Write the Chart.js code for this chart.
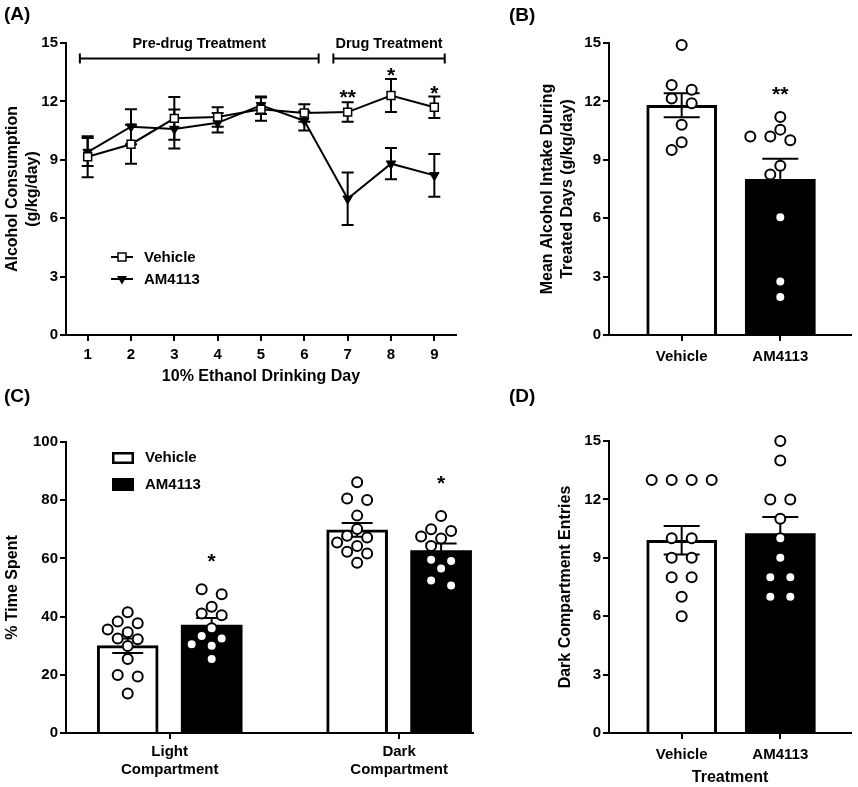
<!DOCTYPE html>
<html>
<head>
<meta charset="utf-8">
<script src="https://cdn.jsdelivr.net/npm/chart.js@4.4.0/dist/chart.umd.min.js"></script>
<style>
  body { margin: 0; background: #fff; }
  #fig { position: relative; width: 858px; height: 787px; overflow: hidden; font-family: 'Liberation Sans', Arial, sans-serif; }
  canvas { position: absolute; }
  .lab { position: absolute; font-weight: bold; font-size: 19px; line-height: 19px; color: #000; }
</style>
</head>
<body>
<div id="fig">
  <canvas id="chartA" width="470" height="395" style="left:0;top:0"></canvas>
  <canvas id="chartB" width="388" height="395" style="left:470px;top:0"></canvas>
  <canvas id="chartC" width="480" height="392" style="left:0;top:395px"></canvas>
  <canvas id="chartD" width="378" height="392" style="left:480px;top:395px"></canvas>
  <div class="lab" style="left:4px;top:4px">(A)</div>
  <div class="lab" style="left:509px;top:5px">(B)</div>
  <div class="lab" style="left:4px;top:386px">(C)</div>
  <div class="lab" style="left:509px;top:386px">(D)</div>
</div>
<script>
// ---- values ----
// (A) daily intake, mean and SEM
var days = [1, 2, 3, 4, 5, 6, 7, 8, 9];
var vehicleDaily = [9.16, 9.8, 11.13, 11.2, 11.6, 11.4, 11.45, 12.3, 11.7];
var vehicleDailySem = [1.05, 1.0, 1.1, 0.5, 0.6, 0.45, 0.5, 0.85, 0.55];
var amDaily = [9.4, 10.7, 10.58, 10.9, 11.8, 11.0, 7.0, 8.8, 8.2];
var amDailySem = [0.72, 0.9, 1.0, 0.5, 0.45, 0.5, 1.35, 0.8, 1.1];
var dailyStars = [[7, 12.45, '**'], [8, 13.6, '*'], [9, 12.7, '*']];
var periods = [['Pre-drug Treatment', 0.82, 6.33], ['Drug Treatment', 6.67, 9.24]];

// (B) mean intake over treated days
var groups = ['Vehicle', 'AM4113'];
var intakeVehicle = [14.9, 12.84, 12.6, 12.15, 11.9, 10.8, 9.9, 9.5];
var intakeAm = [11.2, 10.55, 10.2, 10.0, 10.2, 8.7, 8.25, 6.05, 2.75, 1.95];
var intakeMean = [11.8, 8.0];
var intakeSem = [0.62, 1.05];
var intakeStars = [[1, 12.6, '**']];

// (C) % time spent
var compartments = [['Light', 'Compartment'], ['Dark', 'Compartment']];
var lightVehicle = [41.5, 38.3, 37.7, 35.6, 34.6, 32.5, 32.2, 29.9, 25.4, 19.9, 19.4, 13.6];
var lightAm = [49.4, 47.7, 43.4, 41.1, 40.5, 36.0, 33.3, 32.5, 30.5, 30.0, 25.4];
var darkVehicle = [86.2, 80.6, 80.1, 74.7, 70.1, 67.8, 67.2, 65.5, 64.3, 62.3, 61.7, 58.5];
var darkAm = [74.6, 70.0, 69.4, 67.5, 66.8, 64.3, 59.5, 59.1, 56.5, 52.4, 50.7];
var timeMeanVehicle = [30.0, 69.8];
var timeSemVehicle = [2.5, 2.4];
var timeMeanAm = [37.1, 62.7];
var timeSemAm = [2.4, 2.4];
var timeStars = [[0, 60.6, '*'], [1, 87.6, '*']];

// (D) dark compartment entries
var entriesVehicle = [13, 13, 13, 13, 10, 10, 9, 9, 8, 8, 7, 6];
var entriesAm = [15, 14, 12, 12, 11, 10, 9, 8, 8, 7, 7];
var entriesMean = [9.9, 10.25];
var entriesSem = [0.73, 0.85];

// ---- shared look ----
var FONT = "'Liberation Sans', Arial, sans-serif";
Chart.defaults.font.family = FONT;
Chart.defaults.font.weight = 'bold';
Chart.defaults.color = '#000';
Chart.defaults.animation = false;
Chart.defaults.plugins.legend.display = false;
Chart.defaults.plugins.tooltip.enabled = false;

var DODGE = 0.183; // half distance between the two bars of a group (C)

function axisBase() {
  return {
    type: 'linear',
    offset: false,
    grid: { display: true, drawOnChartArea: false, drawTicks: true, tickLength: 6, color: '#000', lineWidth: 2, offset: false },
    border: { display: true, color: '#000', width: 2 }
  };
}

function yAxis(min, max, step, title, width) {
  var a = axisBase();
  a.min = min; a.max = max;
  a.ticks = { stepSize: step, padding: 2, font: { size: 15, weight: 'bold' }, color: '#000' };
  a.title = { display: true, text: title, color: '#000', font: { size: 16, weight: 'bold', lineHeight: 1.22 }, padding: { top: 3, bottom: 0 } };
  a.afterFit = function (s) { s.width = width; };
  return a;
}

function xAxis(min, max, labels, pad, height, title, titlePad) {
  var a = axisBase();
  a.min = min; a.max = max;
  a.ticks = {
    autoSkip: false, maxRotation: 0, padding: pad,
    font: { size: 15, weight: 'bold' }, color: '#000',
    callback: function (v) { return labels ? labels[v] : String(v); }
  };
  // one tick per whole unit (day or group) inside the range
  a.afterBuildTicks = function (s) {
    var t = [];
    for (var v = Math.ceil(s.min); v <= s.max; v++) t.push({ value: v });
    s.ticks = t;
  };
  if (title) {
    a.title = { display: true, text: title, color: '#000', font: { size: 16, weight: 'bold', lineHeight: 1.22 }, padding: { top: 0, bottom: titlePad } };
  }
  a.afterFit = function (s) { s.height = height; };
  return a;
}

function drawErrors(chart, index) {
  var ds = chart.data.datasets[index];
  var meta = chart.getDatasetMeta(index);
  var y = chart.scales.y, ctx = chart.ctx;
  ctx.save();
  ctx.strokeStyle = '#000';
  ctx.lineWidth = 2;
  meta.data.forEach(function (el, k) {
    var v = ds.data[k].y, e = ds.errors[k], w = ds.capHalf;
    var top = y.getPixelForValue(v + e), bot = y.getPixelForValue(v - e);
    ctx.beginPath();
    ctx.moveTo(el.x, top); ctx.lineTo(el.x, bot);
    ctx.moveTo(el.x - w, top); ctx.lineTo(el.x + w, top);
    ctx.moveTo(el.x - w, bot); ctx.lineTo(el.x + w, bot);
    ctx.stroke();
  });
  ctx.restore();
}

var errorBars = {
  id: 'errorBars',
  beforeDatasetsDraw: function (chart) {
    chart.data.datasets.forEach(function (ds, i) {
      if (ds.errors && ds.errorsBehind) drawErrors(chart, i);
    });
  },
  afterDatasetDraw: function (chart, args) {
    var ds = chart.data.datasets[args.index];
    if (ds.errors && !ds.errorsBehind) drawErrors(chart, args.index);
  }
};

// spread the dots of a group sideways, GraphPad style: near-equal values share a row
function swarmOffsets(ys) {
  var order = ys.map(function (y, i) { return i; }).sort(function (a, b) { return ys[a] - ys[b]; });
  var rows = [];
  order.forEach(function (i) {
    var row = rows[rows.length - 1];
    if (row && ys[i] - ys[row[0]] < 6) row.push(i); else rows.push([i]);
  });
  var placed = [], off = [];
  rows.forEach(function (row) {
    var n = row.length;
    for (var s = 0; s < 12; s++) {
      var shift = (s % 2 ? -1 : 1) * Math.ceil(s / 2) * 10;
      var xs = row.map(function (i, k) { return (k - (n - 1) / 2) * 20 + shift; });
      var clash = row.some(function (i, k) {
        return placed.some(function (p) { return Math.hypot(p[0] - xs[k], p[1] - ys[i]) < 8.9; });
      });
      if (!clash || s === 11) {
        row.forEach(function (i, k) { off[i] = xs[k]; placed.push([xs[k], ys[i]]); });
        break;
      }
    }
  });
  return off;
}

var swarm = {
  id: 'swarm',
  afterDatasetUpdate: function (chart, args) {
    var ds = chart.data.datasets[args.index];
    if (!ds.swarm) return;
    var meta = chart.getDatasetMeta(args.index);
    var off = swarmOffsets(meta.data.map(function (el) { return el.y; }));
    meta.data.forEach(function (el, k) { el.x += off[k]; });
  }
};

function starsPlugin(items, dx) {
  return {
    id: 'stars',
    afterDraw: function (chart) {
      var ctx = chart.ctx, size = 21;
      ctx.save();
      ctx.fillStyle = '#000';
      ctx.font = 'bold ' + size + 'px ' + FONT;
      ctx.textAlign = 'center';
      ctx.textBaseline = 'alphabetic';
      items.forEach(function (s) {
        var x = chart.scales.x.getPixelForValue(s[0] + dx);
        var y = chart.scales.y.getPixelForValue(s[1]);
        ctx.fillText(s[2], x, y + 0.56 * size);
      });
      ctx.restore();
    }
  };
}

function dots(values, x) {
  return {
    type: 'scatter', order: 1, swarm: true, clip: false,
    data: values.map(function (v) { return { x: x, y: v }; }),
    pointStyle: 'circle', pointRadius: 5, pointHoverRadius: 5,
    pointBackgroundColor: '#fff', pointBorderColor: '#000', pointBorderWidth: 2
  };
}

function bars(means, sems, xs, fill, width, thickness, cap) {
  return {
    type: 'bar', order: 2, grouped: false, barThickness: thickness,
    data: means.map(function (m, i) { return { x: xs[i], y: m }; }),
    errors: sems, capHalf: cap,
    backgroundColor: fill, borderColor: '#000', borderWidth: width, borderSkipped: 'start'
  };
}

// ---- (A) ----
var legendA = {
  id: 'legendA',
  afterDraw: function (chart) {
    var ctx = chart.ctx, a = chart.chartArea;
    var x0 = a.left + 45;
    var rows = [[a.top + 214, 'Vehicle', 'rect'], [a.top + 236, 'AM4113', 'tri']];
    ctx.save();
    ctx.lineWidth = 2;
    ctx.strokeStyle = '#000';
    rows.forEach(function (r) {
      var y = r[0], cx = x0 + 11;
      ctx.beginPath(); ctx.moveTo(x0, y); ctx.lineTo(x0 + 22, y); ctx.stroke();
      if (r[2] === 'rect') {
        ctx.fillStyle = '#fff'; ctx.lineWidth = 1.5;
        ctx.fillRect(cx - 4, y - 4, 8, 8); ctx.strokeRect(cx - 4, y - 4, 8, 8);
        ctx.lineWidth = 2;
      } else {
        ctx.fillStyle = '#000';
        ctx.beginPath(); ctx.moveTo(cx - 5, y - 3); ctx.lineTo(cx + 5, y - 3); ctx.lineTo(cx, y + 5.5); ctx.closePath(); ctx.fill();
      }
      ctx.fillStyle = '#000';
      ctx.font = 'bold 15px ' + FONT;
      ctx.textAlign = 'left'; ctx.textBaseline = 'middle';
      ctx.fillText(r[1], x0 + 33, y + 1);
    });
    ctx.restore();
  }
};

var periodsPlugin = {
  id: 'periods',
  afterDraw: function (chart) {
    var ctx = chart.ctx, xs = chart.scales.x, ys = chart.scales.y;
    var yl = ys.getPixelForValue(14.2), yt = ys.getPixelForValue(15) + 1;
    ctx.save();
    ctx.strokeStyle = '#000'; ctx.fillStyle = '#000'; ctx.lineWidth = 2;
    ctx.font = 'bold 14.5px ' + FONT;
    ctx.textAlign = 'center'; ctx.textBaseline = 'middle';
    periods.forEach(function (p) {
      var x1 = xs.getPixelForValue(p[1]), x2 = xs.getPixelForValue(p[2]);
      ctx.beginPath();
      ctx.moveTo(x1, yl); ctx.lineTo(x2, yl);
      ctx.moveTo(x1, yl - 5); ctx.lineTo(x1, yl + 5);
      ctx.moveTo(x2, yl - 5); ctx.lineTo(x2, yl + 5);
      ctx.stroke();
      ctx.fillText(p[0], (x1 + x2) / 2, yt);
    });
    ctx.restore();
  }
};

new Chart(document.getElementById('chartA'), {
  type: 'line',
  data: {
    datasets: [
      {
        label: 'Vehicle', data: days.map(function (d, i) { return { x: d, y: vehicleDaily[i] }; }),
        errors: vehicleDailySem, errorsBehind: true, capHalf: 6, clip: false,
        borderColor: '#000', borderWidth: 2, tension: 0,
        pointStyle: 'rect', pointRadius: 5.6, pointHoverRadius: 5.6,
        pointBackgroundColor: '#fff', pointBorderColor: '#000', pointBorderWidth: 1.5
      },
      {
        label: 'AM4113', data: days.map(function (d, i) { return { x: d, y: amDaily[i] }; }),
        errors: amDailySem, errorsBehind: true, capHalf: 6, clip: false,
        borderColor: '#000', borderWidth: 2, tension: 0,
        pointStyle: 'triangle', pointRotation: 180, pointRadius: 5.5, pointHoverRadius: 5.5,
        pointBackgroundColor: '#000', pointBorderColor: '#000', pointBorderWidth: 1
      }
    ]
  },
  options: {
    responsive: false,
    layout: { padding: { left: 0, top: 43, right: 14, bottom: 0 } },
    scales: {
      x: xAxis(0.5, 9.5, null, 5, 60, '10% Ethanol Drinking Day', 8.5),
      y: yAxis(0, 15, 3, ['Alcohol Consumption', '(g/kg/day)'], 66)
    }
  },
  plugins: [errorBars, periodsPlugin, legendA, starsPlugin(dailyStars, 0)]
});

// ---- (B) ----
new Chart(document.getElementById('chartB'), {
  type: 'scatter',
  data: {
    datasets: [
      dots(intakeVehicle, 0),
      dots(intakeAm, 1),
      bars(intakeMean, intakeSem, [0, 1], ['#fff', '#000'], [3, 0], 70, 18)
    ]
  },
  options: {
    responsive: false,
    layout: { padding: { left: 65, top: 43, right: 6, bottom: 0 } },
    scales: {
      x: xAxis(-0.737, 1.717, groups, 7, 60),
      y: yAxis(0, 15, 3, ['Mean Alcohol Intake During', 'Treated Days (g/kg/day)'], 74)
    }
  },
  plugins: [errorBars, swarm, starsPlugin(intakeStars, 0)]
});

// ---- (C) ----
var legendC = {
  id: 'legendC',
  afterDraw: function (chart) {
    var ctx = chart.ctx, a = chart.chartArea;
    var x0 = a.left + 46;
    ctx.save();
    ctx.lineWidth = 2.5; ctx.strokeStyle = '#000';
    ctx.fillStyle = '#fff';
    ctx.fillRect(x0, a.top + 10, 22, 12); ctx.strokeRect(x0 + 1.25, a.top + 11.25, 19.5, 9.5);
    ctx.fillStyle = '#000';
    ctx.fillRect(x0, a.top + 36, 22, 13);
    ctx.font = 'bold 15px ' + FONT;
    ctx.textAlign = 'left'; ctx.textBaseline = 'middle';
    ctx.fillText('Vehicle', x0 + 33, a.top + 16);
    ctx.fillText('AM4113', x0 + 33, a.top + 43);
    ctx.restore();
  }
};

new Chart(document.getElementById('chartC'), {
  type: 'scatter',
  data: {
    datasets: [
      dots(lightVehicle, 0 - DODGE),
      dots(lightAm, 0 + DODGE),
      dots(darkVehicle, 1 - DODGE),
      dots(darkAm, 1 + DODGE),
      bars(timeMeanVehicle, timeSemVehicle, [0 - DODGE, 1 - DODGE], '#fff', 3, 61, 15.5),
      bars(timeMeanAm, timeSemAm, [0 + DODGE, 1 + DODGE], '#000', 0, 61, 15.5)
    ]
  },
  options: {
    responsive: false,
    layout: { padding: { left: 0, top: 47, right: 6, bottom: 0 } },
    scales: {
      x: xAxis(-0.452, 1.322, compartments, 4, 54),
      y: yAxis(0, 100, 20, '% Time Spent', 66)
    }
  },
  plugins: [errorBars, swarm, legendC, starsPlugin(timeStars, DODGE)]
});

// ---- (D) ----
new Chart(document.getElementById('chartD'), {
  type: 'scatter',
  data: {
    datasets: [
      dots(entriesVehicle, 0),
      dots(entriesAm, 1),
      bars(entriesMean, entriesSem, [0, 1], ['#fff', '#000'], [3, 0], 70, 18)
    ]
  },
  options: {
    responsive: false,
    layout: { padding: { left: 73, top: 46, right: 6, bottom: 0 } },
    scales: {
      x: xAxis(-0.737, 1.717, groups, 7, 54, 'Treatment', 0),
      y: yAxis(0, 15, 3, 'Dark Compartment Entries', 56)
    }
  },
  plugins: [errorBars, swarm]
});
</script>
</body>
</html>
